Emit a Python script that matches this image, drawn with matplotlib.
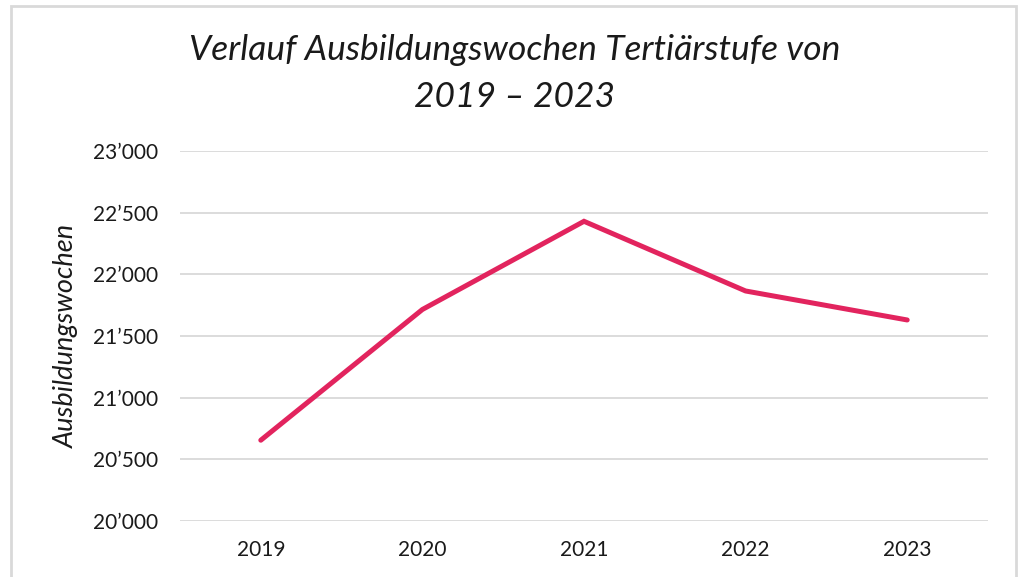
import matplotlib
matplotlib.use("Agg")
import matplotlib.pyplot as plt
from matplotlib.patches import Rectangle
from matplotlib.ticker import FuncFormatter

years = ["2019", "2020", "2021", "2022", "2023"]
wochen = [20655, 21715, 22430, 21865, 21630]
yticks = [20000, 20500, 21000, 21500, 22000, 22500, 23000]

plt.rcParams['font.family'] = ['Lato', 'DejaVu Sans']

W, H = 1019, 577
fig = plt.figure(figsize=(W / 100, H / 100), dpi=100)
fig.patch.set_facecolor("white")

# outer frame
fig.add_artist(Rectangle((11 / W, -0.05), (1016 - 11) / W, 1.05 - 6 / H,
                         transform=fig.transFigure, fill=False,
                         edgecolor="#d9d9d9", linewidth=2))

ax = fig.add_axes([180 / W, 1 - 521 / H, (988 - 180) / W, (521 - 151) / H])
x = list(range(len(years)))
ax.plot(x, wochen, color="#E2245E", linewidth=3.6, solid_capstyle="round",
        solid_joinstyle="miter")
ax.set_xlim(-0.5, len(years) - 0.5)
ax.set_ylim(20000, 23000)
ax.set_yticks(yticks)
ax.set_xticks(x)
ax.set_xticklabels(years)
ax.yaxis.set_major_formatter(FuncFormatter(lambda v, p: f"{int(v):,}".replace(",", "\u2019")))
ax.grid(axis="y", color="#d9d9d9", linewidth=1.3)
ax.set_axisbelow(True)
for s in ax.spines.values():
    s.set_visible(False)
ax.tick_params(axis="both", length=0, labelsize=15, colors="#1a1a1a")
ax.tick_params(axis="y", pad=16)
ax.tick_params(axis="x", pad=14)
ax.set_ylabel("Ausbildungswochen", fontsize=19.5, fontstyle="italic", color="#1a1a1a",
              labelpad=10)

fig.text(515 / W, 1 - 50 / H, "Verlauf Ausbildungswochen Tertiärstufe von",
         ha="center", va="center", fontsize=25.5, fontstyle="italic", color="#1a1a1a")
fig.text(515 / W, 1 - 97 / H, "2019 \u2013 2023",
         ha="center", va="center", fontsize=25.5, fontstyle="italic", color="#1a1a1a")

fig.savefig("out.png", dpi=100, facecolor="white")
